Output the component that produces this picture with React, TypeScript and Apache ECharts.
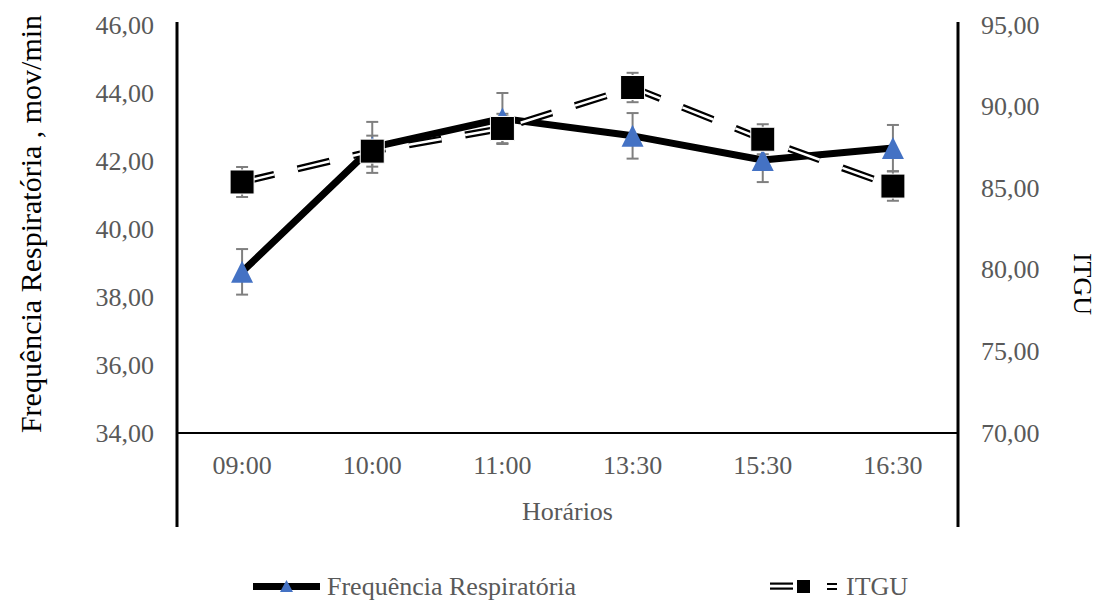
import React, { useEffect, useRef } from "react";
import * as echarts from "echarts";

const categories = ["09:00", "10:00", "11:00", "13:30", "15:30", "16:30"];
const freqValues = [38.74, 42.4, 43.25, 42.74, 42.03, 42.38];
const freqErrors = [0.67, 0.75, 0.75, 0.67, 0.65, 0.68];
const itguValues = [85.38, 87.27, 88.66, 91.17, 88.0, 85.13];
const itguErrors = [0.92, 0.95, 0.9, 0.9, 0.92, 0.9];

const leftMin = 34;
const leftMax = 46;
const leftStep = 2;
const rightMin = 70;
const rightMax = 95;
const rightStep = 5;

const FONT = '"Liberation Serif", "Times New Roman", serif';
const GREY = "#595959";

const fmt = (v: number) => v.toFixed(2).replace(".", ",");

function errorSeries(values: number[], errors: number[], yAxisIndex: number, z: number) {
  return {
    type: "custom",
    yAxisIndex,
    z,
    silent: true,
    data: values.map((v, i) => [i, v, errors[i]]),
    encode: { x: 0, y: 1 },
    renderItem: (_params: any, api: any) => {
      const i = api.value(0);
      const v = api.value(1);
      const e = api.value(2);
      const t = api.coord([i, v + e]);
      const b = api.coord([i, v - e]);
      const style = { stroke: "#7f7f7f", lineWidth: 2 };
      return {
        type: "group",
        children: [
          { type: "line", shape: { x1: t[0], y1: t[1], x2: b[0], y2: b[1] }, style },
          { type: "line", shape: { x1: t[0] - 6, y1: t[1], x2: t[0] + 6, y2: t[1] }, style },
          { type: "line", shape: { x1: b[0] - 6, y1: b[1], x2: b[0] + 6, y2: b[1] }, style },
        ],
      };
    },
  };
}

export default function App() {
  const ref = useRef<HTMLDivElement>(null);

  useEffect(() => {
    if (!ref.current) return;
    const chart = echarts.init(ref.current, undefined, { renderer: "svg" });

    const gridLeft = 177;
    const gridRight = 958;
    const gridTop = 25;
    const gridBottom = 433;

    const option: any = {
      animation: false,
      backgroundColor: "#ffffff",
      grid: { left: gridLeft, right: 1099 - gridRight, top: gridTop, bottom: 604 - gridBottom },
      xAxis: {
        type: "category",
        data: categories,
        boundaryGap: true,
        axisLine: { show: true, lineStyle: { color: "#000", width: 2 } },
        axisTick: { show: false },
        axisLabel: { color: GREY, fontFamily: FONT, fontSize: 26, margin: 19 },
        name: "Horários",
        nameLocation: "middle",
        nameGap: 65,
        nameTextStyle: { color: GREY, fontFamily: FONT, fontSize: 26 },
        splitLine: { show: false },
      },
      yAxis: [
        {
          type: "value",
          min: leftMin,
          max: leftMax,
          interval: leftStep,
          axisLine: { show: false },
          axisTick: { show: false },
          splitLine: { show: false },
          axisLabel: { color: GREY, fontFamily: FONT, fontSize: 26, margin: 23, formatter: fmt },
        },
        {
          type: "value",
          min: rightMin,
          max: rightMax,
          interval: rightStep,
          position: "right",
          axisLine: { show: false },
          axisTick: { show: false },
          splitLine: { show: false },
          axisLabel: { color: GREY, fontFamily: FONT, fontSize: 26, margin: 23, formatter: fmt },
        },
      ],
      series: [
        errorSeries(freqValues, freqErrors, 0, 1),
        errorSeries(itguValues, itguErrors, 1, 1),
        {
          name: "Frequência Respiratória",
          type: "line",
          yAxisIndex: 0,
          z: 2,
          data: freqValues,
          lineStyle: { color: "#000", width: 7 },
          symbol: "triangle",
          symbolSize: [22, 22],
          itemStyle: { color: "#4472C4", borderColor: "#4472C4", borderWidth: 0, opacity: 1 },
          showSymbol: true,
        },
        {
          name: "ITGU",
          type: "line",
          yAxisIndex: 1,
          z: 3,
          data: itguValues,
          symbol: "none",
          lineStyle: { color: "#000", width: 7, type: [33, 24], cap: "butt" },
        },
        {
          name: "ITGU inner",
          type: "line",
          yAxisIndex: 1,
          z: 4,
          data: itguValues,
          symbol: "none",
          lineStyle: { color: "#fff", width: 2.5, type: [33, 24], cap: "butt" },
        },
        {
          name: "ITGU markers",
          type: "scatter",
          yAxisIndex: 1,
          z: 5,
          data: itguValues,
          symbol: "rect",
          symbolSize: 24,
          itemStyle: { color: "#000", borderColor: "#ffffff", borderWidth: 1, opacity: 1 },
        },
      ],
      graphic: [
        { type: "line", shape: { x1: gridLeft, y1: 22, x2: gridLeft, y2: 527 }, style: { stroke: "#000", lineWidth: 3 }, z: 10 },
        { type: "line", shape: { x1: gridRight, y1: 22, x2: gridRight, y2: 527 }, style: { stroke: "#000", lineWidth: 3 }, z: 10 },
        {
          type: "text",
          x: 30,
          y: 224,
          rotation: Math.PI / 2,
          style: {
            text: "Frequência Respiratória , mov/min",
            fontFamily: FONT,
            fontSize: 30,
            fill: "#000",
            align: "center",
            verticalAlign: "middle",
            textAlign: "center",
            textVerticalAlign: "middle",
          },
        },
        {
          type: "text",
          x: 1082,
          y: 284,
          rotation: -Math.PI / 2,
          style: {
            text: "ITGU",
            fontFamily: FONT,
            fontSize: 26,
            fill: "#000",
            align: "center",
            verticalAlign: "middle",
            textAlign: "center",
            textVerticalAlign: "middle",
          },
        },
        // legend: Frequência Respiratória
        { type: "rect", shape: { x: 253, y: 583, width: 67, height: 7 }, style: { fill: "#000" } },
        { type: "polygon", shape: { points: [[280, 592], [293, 592], [286.5, 580]] }, style: { fill: "#4472C4" } },
        {
          type: "text",
          x: 327,
          y: 586,
          style: {
            text: "Frequência Respiratória",
            fontFamily: FONT,
            fontSize: 26,
            fill: GREY,
            align: "left",
            verticalAlign: "middle",
            textAlign: "left",
            textVerticalAlign: "middle",
          },
        },
        // legend: ITGU
        { type: "rect", shape: { x: 770, y: 582.5, width: 23, height: 2.2 }, style: { fill: "#000" } },
        { type: "rect", shape: { x: 770, y: 587.5, width: 23, height: 2.2 }, style: { fill: "#000" } },
        { type: "rect", shape: { x: 797, y: 580, width: 13, height: 13 }, style: { fill: "#000" } },
        { type: "rect", shape: { x: 827, y: 583, width: 10, height: 2 }, style: { fill: "#000" } },
        { type: "rect", shape: { x: 827, y: 588, width: 10, height: 2 }, style: { fill: "#000" } },
        {
          type: "text",
          x: 846,
          y: 586,
          style: {
            text: "ITGU",
            fontFamily: FONT,
            fontSize: 26,
            fill: GREY,
            align: "left",
            verticalAlign: "middle",
            textAlign: "left",
            textVerticalAlign: "middle",
          },
        },
      ],
    };

    chart.setOption(option);
    return () => {
      chart.dispose();
    };
  }, []);

  return (
    <div
      ref={ref}
      style={{ position: "absolute", left: 0, top: 0, width: 1099, height: 604, background: "#fff" }}
    />
  );
}
